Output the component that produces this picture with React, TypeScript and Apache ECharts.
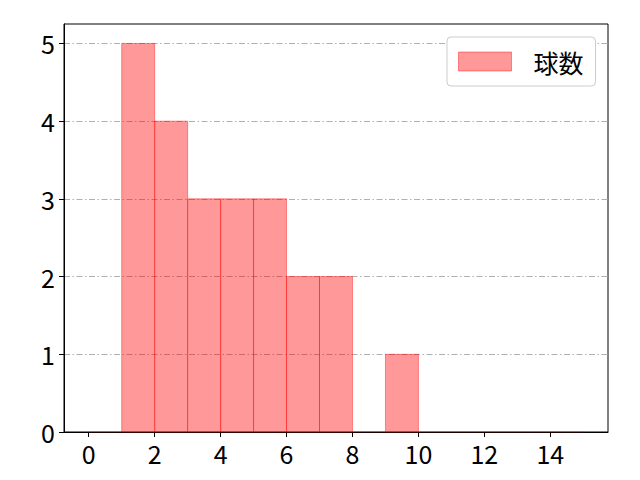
import React, { useEffect, useRef } from "react";
import * as echarts from "echarts";

const binStarts = [0, 1, 2, 3, 4, 5, 6, 7, 8, 9, 10, 11, 12, 13, 14];
const binWidth = 1;
const counts = [0, 5, 4, 3, 3, 3, 2, 2, 0, 1, 0, 0, 0, 0, 0];
const xTicks = [0, 2, 4, 6, 8, 10, 12, 14];
const yTicks = [0, 1, 2, 3, 4, 5];
const seriesName = "球数";

const FONT = "'Noto Sans CJK JP', 'Noto Sans', sans-serif";

export default function App() {
  const ref = useRef<HTMLDivElement>(null);
  useEffect(() => {
    if (!ref.current) return;
    const chart = echarts.init(ref.current, null, { renderer: "svg" });
    const data = binStarts.map((s, i) => [s, s + binWidth, counts[i]]);
    chart.setOption({
      animation: false,
      textStyle: { fontFamily: FONT },
      grid: {
        left: 64,
        right: 32,
        top: 24,
        bottom: 48,
        show: true,
        borderColor: "#000",
        borderWidth: 1,
        backgroundColor: "transparent",
      },
      legend: {
        left: 447,
        top: 37,
        padding: [12, 12, 12, 11],
        backgroundColor: "#fff",
        borderColor: "#cccccc",
        borderWidth: 1,
        borderRadius: 4,
        itemWidth: 53,
        itemHeight: 19,
        textStyle: { fontSize: 25, color: "#000", fontFamily: FONT, padding: [0, 0, 0, 17] },
        data: [
          {
            name: seriesName,
            icon: "rect",
            itemStyle: { color: "rgba(255,0,0,0.4)", borderColor: "rgba(255,0,0,0.4)", borderWidth: 1 },
          },
        ],
      },
      xAxis: {
        type: "value",
        min: -0.75,
        max: 15.75,
        axisLine: { show: true, onZero: false, lineStyle: { color: "#000", width: 1 } },
        axisTick: { show: true, length: 5, customValues: xTicks, lineStyle: { color: "#000" } },
        axisLabel: {
          customValues: xTicks,
          fontSize: 25,
          color: "#000",
          margin: 8,
          fontFamily: FONT,
        },
        splitLine: { show: false },
      },
      yAxis: {
        type: "value",
        min: 0,
        max: 5.25,
        interval: 1,
        axisLine: { show: true, onZero: false, lineStyle: { color: "#000", width: 1 } },
        axisTick: { show: true, length: 5, customValues: yTicks, lineStyle: { color: "#000" } },
        axisLabel: {
          customValues: yTicks,
          fontSize: 25,
          color: "#000",
          margin: 9,
          fontFamily: FONT,
        },
        splitLine: {
          show: true,
          showMinLine: false,
          showMaxLine: true,
          lineStyle: { color: "#b0b0b0", width: 1, type: [6, 2.5, 1.5, 2.5] },
        },
      },
      series: [
        {
          name: seriesName,
          type: "custom",
          z: 1,
          itemStyle: { color: "rgba(255,0,0,0.4)", borderColor: "rgba(255,0,0,0.4)", borderWidth: 1 },
          encode: { x: [0, 1], y: 2 },
          data,
          renderItem: (params: any, api: any) => {
            const x0 = api.value(0);
            const x1 = api.value(1);
            const y = api.value(2);
            const p0 = api.coord([x0, y]);
            const p1 = api.coord([x1, 0]);
            const h = p1[1] - p0[1];
            return {
              type: "rect",
              shape: { x: p0[0], y: p0[1], width: p1[0] - p0[0], height: h },
              style: {
                fill: "rgba(255,0,0,0.4)",
                stroke: h > 0 ? "rgba(255,0,0,0.4)" : "rgba(255,0,0,0.1)",
                lineWidth: 1,
              },
            };
          },
        },
      ],
    });
    return () => chart.dispose();
  }, []);
  return <div ref={ref} style={{ width: 640, height: 480, position: "absolute", left: 0, top: 0 }} />;
}
